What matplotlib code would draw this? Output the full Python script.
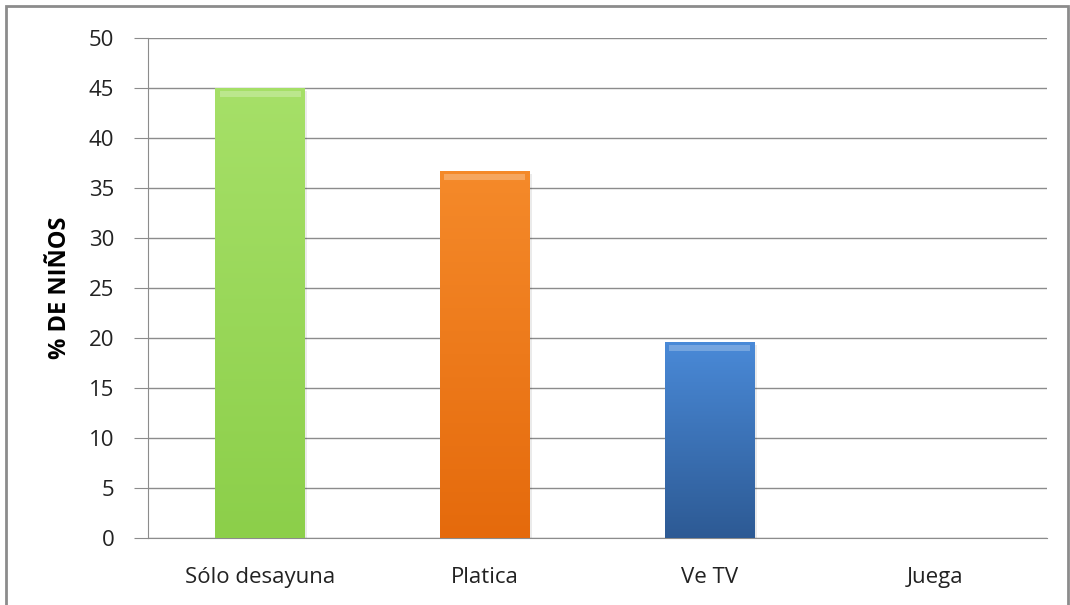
import numpy as np
import matplotlib.pyplot as plt
from matplotlib.patches import Rectangle
from matplotlib.colors import LinearSegmentedColormap

# actividades durante el desayuno
categorias = ['Sólo desayuna', 'Platica', 'Ve TV', 'Juega']
porcentajes = [45.0, 36.7, 19.6, 0.0]
# (color arriba, color abajo) para el degradado de cada barra
colores = [('#a6e068', '#8ccf4a'), ('#f58a2a', '#e56a0c'),
           ('#4a8ad8', '#2d5a94'), ('#888888', '#666666')]

plt.rcParams['font.family'] = ['Open Sans', 'DejaVu Sans']

fig = plt.figure(figsize=(10.7, 6.05), dpi=100)
ax = fig.add_axes([0.138, 0.1107, 0.8405, 0.8265])

# marco exterior
fig.patches.append(Rectangle((0.006, -0.01), 0.992, 1.0, transform=fig.transFigure,
                             fill=False, edgecolor='#8c8c8c', linewidth=2))

ancho = 0.4
x = np.arange(len(categorias))
barras = ax.bar(x, porcentajes, width=ancho, color='none', zorder=3)

grad = np.linspace(0, 1, 256).reshape(-1, 1)
for b, (c_top, c_bot), v in zip(barras, colores, porcentajes):
    if v <= 0:
        continue
    cmap = LinearSegmentedColormap.from_list('g', [c_bot, c_top])
    x0 = b.get_x()
    im = ax.imshow(grad, cmap=cmap, origin='lower', aspect='auto',
                   extent=[x0, x0 + ancho, 0, v], zorder=3)
    im.set_clip_path(b)
    # brillo en el borde superior
    ax.add_patch(Rectangle((x0 + 0.02, v - 0.9), ancho - 0.04, 0.6,
                           color='white', alpha=0.25, zorder=4, linewidth=0))
    # sombra leve
    ax.add_patch(Rectangle((x0 + 0.008, -0.3), ancho, v, color='#000000',
                           alpha=0.08, zorder=2, linewidth=0))

ax.set_xlim(-0.5, 3.5)
ax.set_ylim(0, 50)
ax.set_yticks(range(0, 51, 5))
ax.set_xticks(x)
ax.set_xticklabels(categorias)
ax.yaxis.grid(True, color='#8c8c8c', linewidth=1)
ax.set_axisbelow(True)

for s in ['top', 'right']:
    ax.spines[s].set_visible(False)
ax.spines['left'].set_color('#8c8c8c')
ax.spines['bottom'].set_color('#8c8c8c')

ax.tick_params(axis='y', length=10, color='#8c8c8c', labelsize=16, pad=14,
               labelcolor='#222222')
ax.tick_params(axis='x', length=0, labelsize=16, pad=21, labelcolor='#222222')
ax.set_ylabel('% DE NIÑOS', fontsize=17, fontweight='bold', labelpad=12)

fig.savefig('out.png', dpi=100)
